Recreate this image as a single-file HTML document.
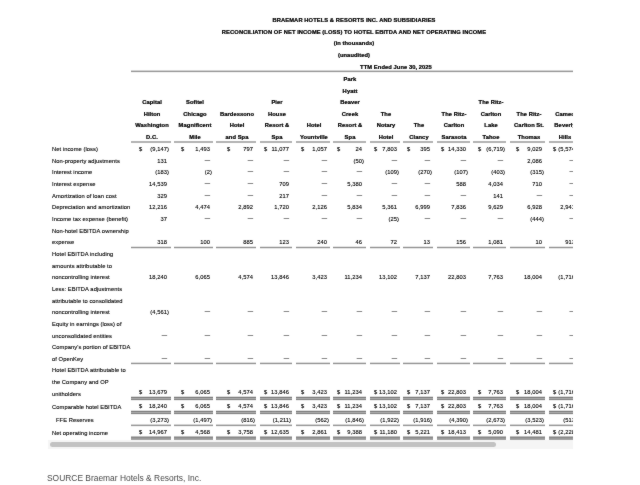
<!DOCTYPE html>
<html><head><meta charset="utf-8"><style>
html,body{margin:0;padding:0;background:#fff;width:640px;height:485px;overflow:hidden}
#wrap{position:absolute;left:0;top:0;width:640px;height:485px;will-change:transform;background:#fff;filter:url(#f)}
.t{position:absolute;font-family:"Liberation Sans",sans-serif;font-size:590px;line-height:1000px;white-space:nowrap;color:#000;-webkit-text-stroke:12.0px #000;transform:scale(0.01);transform-origin:0 0}
.c{width:40000px;text-align:center}
.r{width:20000px;text-align:right}
.l{position:absolute}
.d{color:#222;-webkit-text-stroke:10px #222;display:inline-block;transform:translate(40px,-70px)}
#clip{position:absolute;left:0;top:0;width:572.5px;height:485px;overflow:hidden}
#track{position:absolute;left:48px;top:440px;width:524.5px;height:9px;background:#f5f5f5}
#thumb{position:absolute;left:49.75px;top:442px;width:446.5px;height:5px;border-radius:2.5px;background:#c2c2c2}
#src{position:absolute;left:47.3px;top:470.6px;font-family:"Liberation Sans",sans-serif;font-size:9.3px;line-height:14px;color:#4a4a4a;white-space:nowrap;transform-origin:0 0;transform:scaleX(0.905)}
</style></head><body><svg width="0" height="0" style="position:absolute"><filter id="f" x="0" y="0" width="100%" height="100%" color-interpolation-filters="sRGB"><feConvolveMatrix order="3" kernelMatrix="1 2 1 2 40 2 1 2 1" divisor="52" edgeMode="duplicate"/></filter></svg><div id="wrap">
<div class="t c" style="left:153.90px;top:14.80px;font-weight:bold;-webkit-text-stroke-width:25.0px;">BRAEMAR HOTELS &amp; RESORTS INC. AND SUBSIDIARIES</div><div class="t c" style="left:153.90px;top:26.60px;font-weight:bold;-webkit-text-stroke-width:25.0px;">RECONCILIATION OF NET INCOME (LOSS) TO HOTEL EBITDA AND NET OPERATING INCOME</div><div class="t c" style="left:153.90px;top:38.30px;font-weight:bold;-webkit-text-stroke-width:25.0px;">(in thousands)</div><div class="t c" style="left:153.90px;top:49.90px;font-weight:bold;-webkit-text-stroke-width:25.0px;">(unaudited)</div><div class="t c" style="left:196.00px;top:61.75px;font-weight:bold;-webkit-text-stroke-width:25.0px;">TTM Ended June 30, 2025</div><div class="t" style="left:52.10px;top:144.10px;">Net income (loss)</div><div class="t" style="left:52.10px;top:155.75px;">Non-property adjustments</div><div class="t" style="left:52.10px;top:167.40px;">Interest income</div><div class="t" style="left:52.10px;top:179.05px;">Interest expense</div><div class="t" style="left:52.10px;top:190.70px;">Amortization of loan cost</div><div class="t" style="left:52.10px;top:202.35px;">Depreciation and amortization</div><div class="t" style="left:52.10px;top:214.00px;">Income tax expense (benefit)</div><div class="t" style="left:52.10px;top:225.65px;">Non-hotel EBITDA ownership</div><div class="t" style="left:52.10px;top:237.30px;">expense</div><div class="t" style="left:52.10px;top:248.95px;">Hotel EBITDA including</div><div class="t" style="left:52.10px;top:260.60px;">amounts attributable to</div><div class="t" style="left:52.10px;top:272.25px;">noncontrolling interest</div><div class="t" style="left:52.10px;top:283.90px;">Less: EBITDA adjustments</div><div class="t" style="left:52.10px;top:295.55px;">attributable to consolidated</div><div class="t" style="left:52.10px;top:307.20px;">noncontrolling interest</div><div class="t" style="left:52.10px;top:318.85px;">Equity in earnings (loss) of</div><div class="t" style="left:52.10px;top:330.50px;">unconsolidated entities</div><div class="t" style="left:52.10px;top:342.15px;">Company's portion of EBITDA</div><div class="t" style="left:52.10px;top:353.80px;">of OpenKey</div><div class="t" style="left:52.10px;top:365.45px;">Hotel EBITDA attributable to</div><div class="t" style="left:52.10px;top:377.10px;">the Company and OP</div><div class="t" style="left:52.10px;top:388.75px;">unitholders</div><div class="t" style="left:52.10px;top:402.00px;">Comparable hotel EBITDA</div><div class="t" style="left:55.70px;top:414.90px;">FFE Reserves</div><div class="t" style="left:52.10px;top:427.80px;">Net operating income</div>
<div id="clip">
<div class="l" style="left:131.25px;top:70px;width:468.75px;height:1px;background:rgba(0,0,0,0.169)"></div><div class="l" style="left:131.25px;top:71px;width:468.75px;height:1px;background:rgba(0,0,0,0.400)"></div><div class="l" style="left:131.25px;top:72px;width:468.75px;height:1px;background:rgba(0,0,0,0.049)"></div><div class="t c" style="left:-48.03px;top:97.20px;font-weight:bold;-webkit-text-stroke-width:25.0px;">Capital</div><div class="t c" style="left:-48.03px;top:108.80px;font-weight:bold;-webkit-text-stroke-width:25.0px;">Hilton</div><div class="t c" style="left:-48.03px;top:120.40px;font-weight:bold;-webkit-text-stroke-width:25.0px;">Washington</div><div class="t c" style="left:-48.03px;top:132.00px;font-weight:bold;-webkit-text-stroke-width:25.0px;">D.C.</div><div class="l" style="left:131.25px;top:141px;width:39.25px;height:1px;background:rgba(0,0,0,0.297)"></div><div class="l" style="left:131.25px;top:142px;width:39.25px;height:1px;background:rgba(0,0,0,0.297)"></div><div class="t c" style="left:-5.45px;top:97.20px;font-weight:bold;-webkit-text-stroke-width:25.0px;">Sofitel</div><div class="t c" style="left:-5.45px;top:108.80px;font-weight:bold;-webkit-text-stroke-width:25.0px;">Chicago</div><div class="t c" style="left:-5.45px;top:120.40px;font-weight:bold;-webkit-text-stroke-width:25.0px;">Magnificent</div><div class="t c" style="left:-5.45px;top:132.00px;font-weight:bold;-webkit-text-stroke-width:25.0px;">Mile</div><div class="l" style="left:174.10px;top:141px;width:38.70px;height:1px;background:rgba(0,0,0,0.297)"></div><div class="l" style="left:174.10px;top:142px;width:38.70px;height:1px;background:rgba(0,0,0,0.297)"></div><div class="t c" style="left:37.05px;top:108.80px;font-weight:bold;-webkit-text-stroke-width:25.0px;">Bardessono</div><div class="t c" style="left:37.05px;top:120.40px;font-weight:bold;-webkit-text-stroke-width:25.0px;">Hotel</div><div class="t c" style="left:37.05px;top:132.00px;font-weight:bold;-webkit-text-stroke-width:25.0px;">and Spa</div><div class="l" style="left:216.10px;top:141px;width:39.70px;height:1px;background:rgba(0,0,0,0.297)"></div><div class="l" style="left:216.10px;top:142px;width:39.70px;height:1px;background:rgba(0,0,0,0.297)"></div><div class="t c" style="left:77.20px;top:97.20px;font-weight:bold;-webkit-text-stroke-width:25.0px;">Pier</div><div class="t c" style="left:77.20px;top:108.80px;font-weight:bold;-webkit-text-stroke-width:25.0px;">House</div><div class="t c" style="left:77.20px;top:120.40px;font-weight:bold;-webkit-text-stroke-width:25.0px;">Resort &amp;</div><div class="t c" style="left:77.20px;top:132.00px;font-weight:bold;-webkit-text-stroke-width:25.0px;">Spa</div><div class="l" style="left:259.70px;top:141px;width:32.80px;height:1px;background:rgba(0,0,0,0.297)"></div><div class="l" style="left:259.70px;top:142px;width:32.80px;height:1px;background:rgba(0,0,0,0.297)"></div><div class="t c" style="left:114.10px;top:120.40px;font-weight:bold;-webkit-text-stroke-width:25.0px;">Hotel</div><div class="t c" style="left:114.10px;top:132.00px;font-weight:bold;-webkit-text-stroke-width:25.0px;">Yountville</div><div class="l" style="left:296.20px;top:141px;width:33.60px;height:1px;background:rgba(0,0,0,0.297)"></div><div class="l" style="left:296.20px;top:142px;width:33.60px;height:1px;background:rgba(0,0,0,0.297)"></div><div class="t c" style="left:150.45px;top:74.00px;font-weight:bold;-webkit-text-stroke-width:25.0px;">Park</div><div class="t c" style="left:150.45px;top:85.60px;font-weight:bold;-webkit-text-stroke-width:25.0px;">Hyatt</div><div class="t c" style="left:150.45px;top:97.20px;font-weight:bold;-webkit-text-stroke-width:25.0px;">Beaver</div><div class="t c" style="left:150.45px;top:108.80px;font-weight:bold;-webkit-text-stroke-width:25.0px;">Creek</div><div class="t c" style="left:150.45px;top:120.40px;font-weight:bold;-webkit-text-stroke-width:25.0px;">Resort &amp;</div><div class="t c" style="left:150.45px;top:132.00px;font-weight:bold;-webkit-text-stroke-width:25.0px;">Spa</div><div class="l" style="left:333.10px;top:141px;width:32.50px;height:1px;background:rgba(0,0,0,0.297)"></div><div class="l" style="left:333.10px;top:142px;width:32.50px;height:1px;background:rgba(0,0,0,0.297)"></div><div class="t c" style="left:185.95px;top:108.80px;font-weight:bold;-webkit-text-stroke-width:25.0px;">The</div><div class="t c" style="left:185.95px;top:120.40px;font-weight:bold;-webkit-text-stroke-width:25.0px;">Notary</div><div class="t c" style="left:185.95px;top:132.00px;font-weight:bold;-webkit-text-stroke-width:25.0px;">Hotel</div><div class="l" style="left:370.00px;top:141px;width:29.70px;height:1px;background:rgba(0,0,0,0.297)"></div><div class="l" style="left:370.00px;top:142px;width:29.70px;height:1px;background:rgba(0,0,0,0.297)"></div><div class="t c" style="left:219.15px;top:120.40px;font-weight:bold;-webkit-text-stroke-width:25.0px;">The</div><div class="t c" style="left:219.15px;top:132.00px;font-weight:bold;-webkit-text-stroke-width:25.0px;">Clancy</div><div class="l" style="left:403.10px;top:141px;width:29.90px;height:1px;background:rgba(0,0,0,0.297)"></div><div class="l" style="left:403.10px;top:142px;width:29.90px;height:1px;background:rgba(0,0,0,0.297)"></div><div class="t c" style="left:254.25px;top:108.80px;font-weight:bold;-webkit-text-stroke-width:25.0px;">The Ritz-</div><div class="t c" style="left:254.25px;top:120.40px;font-weight:bold;-webkit-text-stroke-width:25.0px;">Carlton</div><div class="t c" style="left:254.25px;top:132.00px;font-weight:bold;-webkit-text-stroke-width:25.0px;">Sarasota</div><div class="l" style="left:436.70px;top:141px;width:32.90px;height:1px;background:rgba(0,0,0,0.297)"></div><div class="l" style="left:436.70px;top:142px;width:32.90px;height:1px;background:rgba(0,0,0,0.297)"></div><div class="t c" style="left:290.60px;top:97.20px;font-weight:bold;-webkit-text-stroke-width:25.0px;">The Ritz-</div><div class="t c" style="left:290.60px;top:108.80px;font-weight:bold;-webkit-text-stroke-width:25.0px;">Carlton</div><div class="t c" style="left:290.60px;top:120.40px;font-weight:bold;-webkit-text-stroke-width:25.0px;">Lake</div><div class="t c" style="left:290.60px;top:132.00px;font-weight:bold;-webkit-text-stroke-width:25.0px;">Tahoe</div><div class="l" style="left:473.10px;top:141px;width:32.80px;height:1px;background:rgba(0,0,0,0.297)"></div><div class="l" style="left:473.10px;top:142px;width:32.80px;height:1px;background:rgba(0,0,0,0.297)"></div><div class="t c" style="left:328.70px;top:108.80px;font-weight:bold;-webkit-text-stroke-width:25.0px;">The Ritz-</div><div class="t c" style="left:328.70px;top:120.40px;font-weight:bold;-webkit-text-stroke-width:25.0px;">Carlton St.</div><div class="t c" style="left:328.70px;top:132.00px;font-weight:bold;-webkit-text-stroke-width:25.0px;">Thomas</div><div class="l" style="left:509.80px;top:141px;width:35.60px;height:1px;background:rgba(0,0,0,0.297)"></div><div class="l" style="left:509.80px;top:142px;width:35.60px;height:1px;background:rgba(0,0,0,0.297)"></div><div class="t c" style="left:364.55px;top:108.80px;font-weight:bold;-webkit-text-stroke-width:25.0px;">Cameo</div><div class="t c" style="left:364.55px;top:120.40px;font-weight:bold;-webkit-text-stroke-width:25.0px;">Beverly</div><div class="t c" style="left:364.55px;top:132.00px;font-weight:bold;-webkit-text-stroke-width:25.0px;">Hills</div><div class="l" style="left:548.90px;top:141px;width:29.10px;height:1px;background:rgba(0,0,0,0.297)"></div><div class="l" style="left:548.90px;top:142px;width:29.10px;height:1px;background:rgba(0,0,0,0.297)"></div><div class="t r" style="left:-30.70px;top:144.10px;">(9,147)</div><div class="t" style="left:139.25px;top:144.10px;">$</div><div class="t r" style="left:9.60px;top:144.10px;">1,493</div><div class="t" style="left:180.85px;top:144.10px;">$</div><div class="t r" style="left:52.60px;top:144.10px;">797</div><div class="t" style="left:227.35px;top:144.10px;">$</div><div class="t r" style="left:89.30px;top:144.10px;">11,077</div><div class="t" style="left:264.10px;top:144.10px;">$</div><div class="t r" style="left:126.60px;top:144.10px;">1,057</div><div class="t" style="left:300.95px;top:144.10px;">$</div><div class="t r" style="left:162.40px;top:144.10px;">24</div><div class="t" style="left:337.25px;top:144.10px;">$</div><div class="t r" style="left:196.50px;top:144.10px;">7,803</div><div class="t" style="left:374.10px;top:144.10px;">$</div><div class="t r" style="left:229.80px;top:144.10px;">395</div><div class="t" style="left:407.25px;top:144.10px;">$</div><div class="t r" style="left:266.40px;top:144.10px;">14,330</div><div class="t" style="left:440.95px;top:144.10px;">$</div><div class="t r" style="left:304.70px;top:144.10px;">(6,719)</div><div class="t" style="left:478.10px;top:144.10px;">$</div><div class="t r" style="left:342.20px;top:144.10px;">9,029</div><div class="t" style="left:516.35px;top:144.10px;">$</div><div class="t r" style="left:376.80px;top:144.10px;">(5,574)</div><div class="t" style="left:553.45px;top:144.10px;">$</div><div class="t r" style="left:-32.70px;top:155.75px;">131</div><div class="t r" style="left:9.60px;top:155.75px;"><span class="d">&#8212;</span></div><div class="t r" style="left:52.60px;top:155.75px;"><span class="d">&#8212;</span></div><div class="t r" style="left:89.30px;top:155.75px;"><span class="d">&#8212;</span></div><div class="t r" style="left:126.60px;top:155.75px;"><span class="d">&#8212;</span></div><div class="t r" style="left:164.40px;top:155.75px;">(50)</div><div class="t r" style="left:196.50px;top:155.75px;"><span class="d">&#8212;</span></div><div class="t r" style="left:229.80px;top:155.75px;"><span class="d">&#8212;</span></div><div class="t r" style="left:266.40px;top:155.75px;"><span class="d">&#8212;</span></div><div class="t r" style="left:302.70px;top:155.75px;"><span class="d">&#8212;</span></div><div class="t r" style="left:342.20px;top:155.75px;">2,086</div><div class="t r" style="left:374.80px;top:155.75px;"><span class="d">&#8212;</span></div><div class="t r" style="left:-30.70px;top:167.40px;">(183)</div><div class="t r" style="left:11.60px;top:167.40px;">(2)</div><div class="t r" style="left:52.60px;top:167.40px;"><span class="d">&#8212;</span></div><div class="t r" style="left:89.30px;top:167.40px;"><span class="d">&#8212;</span></div><div class="t r" style="left:126.60px;top:167.40px;"><span class="d">&#8212;</span></div><div class="t r" style="left:162.40px;top:167.40px;"><span class="d">&#8212;</span></div><div class="t r" style="left:198.50px;top:167.40px;">(109)</div><div class="t r" style="left:231.80px;top:167.40px;">(270)</div><div class="t r" style="left:268.40px;top:167.40px;">(107)</div><div class="t r" style="left:304.70px;top:167.40px;">(403)</div><div class="t r" style="left:344.20px;top:167.40px;">(315)</div><div class="t r" style="left:374.80px;top:167.40px;"><span class="d">&#8212;</span></div><div class="t r" style="left:-32.70px;top:179.05px;">14,539</div><div class="t r" style="left:9.60px;top:179.05px;"><span class="d">&#8212;</span></div><div class="t r" style="left:52.60px;top:179.05px;"><span class="d">&#8212;</span></div><div class="t r" style="left:89.30px;top:179.05px;">709</div><div class="t r" style="left:126.60px;top:179.05px;"><span class="d">&#8212;</span></div><div class="t r" style="left:162.40px;top:179.05px;">5,380</div><div class="t r" style="left:196.50px;top:179.05px;"><span class="d">&#8212;</span></div><div class="t r" style="left:229.80px;top:179.05px;"><span class="d">&#8212;</span></div><div class="t r" style="left:266.40px;top:179.05px;">588</div><div class="t r" style="left:302.70px;top:179.05px;">4,034</div><div class="t r" style="left:342.20px;top:179.05px;">710</div><div class="t r" style="left:374.80px;top:179.05px;"><span class="d">&#8212;</span></div><div class="t r" style="left:-32.70px;top:190.70px;">329</div><div class="t r" style="left:9.60px;top:190.70px;"><span class="d">&#8212;</span></div><div class="t r" style="left:52.60px;top:190.70px;"><span class="d">&#8212;</span></div><div class="t r" style="left:89.30px;top:190.70px;">217</div><div class="t r" style="left:126.60px;top:190.70px;"><span class="d">&#8212;</span></div><div class="t r" style="left:162.40px;top:190.70px;"><span class="d">&#8212;</span></div><div class="t r" style="left:196.50px;top:190.70px;"><span class="d">&#8212;</span></div><div class="t r" style="left:229.80px;top:190.70px;"><span class="d">&#8212;</span></div><div class="t r" style="left:266.40px;top:190.70px;"><span class="d">&#8212;</span></div><div class="t r" style="left:302.70px;top:190.70px;">141</div><div class="t r" style="left:342.20px;top:190.70px;"><span class="d">&#8212;</span></div><div class="t r" style="left:374.80px;top:190.70px;"><span class="d">&#8212;</span></div><div class="t r" style="left:-32.70px;top:202.35px;">12,216</div><div class="t r" style="left:9.60px;top:202.35px;">4,474</div><div class="t r" style="left:52.60px;top:202.35px;">2,892</div><div class="t r" style="left:89.30px;top:202.35px;">1,720</div><div class="t r" style="left:126.60px;top:202.35px;">2,126</div><div class="t r" style="left:162.40px;top:202.35px;">5,834</div><div class="t r" style="left:196.50px;top:202.35px;">5,361</div><div class="t r" style="left:229.80px;top:202.35px;">6,999</div><div class="t r" style="left:266.40px;top:202.35px;">7,836</div><div class="t r" style="left:302.70px;top:202.35px;">9,629</div><div class="t r" style="left:342.20px;top:202.35px;">6,928</div><div class="t r" style="left:374.80px;top:202.35px;">2,941</div><div class="t r" style="left:-32.70px;top:214.00px;">37</div><div class="t r" style="left:9.60px;top:214.00px;"><span class="d">&#8212;</span></div><div class="t r" style="left:52.60px;top:214.00px;"><span class="d">&#8212;</span></div><div class="t r" style="left:89.30px;top:214.00px;"><span class="d">&#8212;</span></div><div class="t r" style="left:126.60px;top:214.00px;"><span class="d">&#8212;</span></div><div class="t r" style="left:162.40px;top:214.00px;"><span class="d">&#8212;</span></div><div class="t r" style="left:198.50px;top:214.00px;">(25)</div><div class="t r" style="left:229.80px;top:214.00px;"><span class="d">&#8212;</span></div><div class="t r" style="left:266.40px;top:214.00px;"><span class="d">&#8212;</span></div><div class="t r" style="left:302.70px;top:214.00px;"><span class="d">&#8212;</span></div><div class="t r" style="left:344.20px;top:214.00px;">(444)</div><div class="t r" style="left:374.80px;top:214.00px;"><span class="d">&#8212;</span></div><div class="t r" style="left:-32.70px;top:237.30px;">318</div><div class="t r" style="left:9.60px;top:237.30px;">100</div><div class="t r" style="left:52.60px;top:237.30px;">885</div><div class="t r" style="left:89.30px;top:237.30px;">123</div><div class="t r" style="left:126.60px;top:237.30px;">240</div><div class="t r" style="left:162.40px;top:237.30px;">46</div><div class="t r" style="left:196.50px;top:237.30px;">72</div><div class="t r" style="left:229.80px;top:237.30px;">13</div><div class="t r" style="left:266.40px;top:237.30px;">156</div><div class="t r" style="left:302.70px;top:237.30px;">1,081</div><div class="t r" style="left:342.20px;top:237.30px;">10</div><div class="t r" style="left:374.80px;top:237.30px;">913</div><div class="l" style="left:131.25px;top:246px;width:39.25px;height:1px;background:rgba(0,0,0,0.098)"></div><div class="l" style="left:131.25px;top:247px;width:39.25px;height:1px;background:rgba(0,0,0,0.423)"></div><div class="l" style="left:131.25px;top:248px;width:39.25px;height:1px;background:rgba(0,0,0,0.098)"></div><div class="l" style="left:174.10px;top:246px;width:38.70px;height:1px;background:rgba(0,0,0,0.098)"></div><div class="l" style="left:174.10px;top:247px;width:38.70px;height:1px;background:rgba(0,0,0,0.423)"></div><div class="l" style="left:174.10px;top:248px;width:38.70px;height:1px;background:rgba(0,0,0,0.098)"></div><div class="l" style="left:216.10px;top:246px;width:39.70px;height:1px;background:rgba(0,0,0,0.098)"></div><div class="l" style="left:216.10px;top:247px;width:39.70px;height:1px;background:rgba(0,0,0,0.423)"></div><div class="l" style="left:216.10px;top:248px;width:39.70px;height:1px;background:rgba(0,0,0,0.098)"></div><div class="l" style="left:259.70px;top:246px;width:32.80px;height:1px;background:rgba(0,0,0,0.098)"></div><div class="l" style="left:259.70px;top:247px;width:32.80px;height:1px;background:rgba(0,0,0,0.423)"></div><div class="l" style="left:259.70px;top:248px;width:32.80px;height:1px;background:rgba(0,0,0,0.098)"></div><div class="l" style="left:296.20px;top:246px;width:33.60px;height:1px;background:rgba(0,0,0,0.098)"></div><div class="l" style="left:296.20px;top:247px;width:33.60px;height:1px;background:rgba(0,0,0,0.423)"></div><div class="l" style="left:296.20px;top:248px;width:33.60px;height:1px;background:rgba(0,0,0,0.098)"></div><div class="l" style="left:333.10px;top:246px;width:32.50px;height:1px;background:rgba(0,0,0,0.098)"></div><div class="l" style="left:333.10px;top:247px;width:32.50px;height:1px;background:rgba(0,0,0,0.423)"></div><div class="l" style="left:333.10px;top:248px;width:32.50px;height:1px;background:rgba(0,0,0,0.098)"></div><div class="l" style="left:370.00px;top:246px;width:29.70px;height:1px;background:rgba(0,0,0,0.098)"></div><div class="l" style="left:370.00px;top:247px;width:29.70px;height:1px;background:rgba(0,0,0,0.423)"></div><div class="l" style="left:370.00px;top:248px;width:29.70px;height:1px;background:rgba(0,0,0,0.098)"></div><div class="l" style="left:403.10px;top:246px;width:29.90px;height:1px;background:rgba(0,0,0,0.098)"></div><div class="l" style="left:403.10px;top:247px;width:29.90px;height:1px;background:rgba(0,0,0,0.423)"></div><div class="l" style="left:403.10px;top:248px;width:29.90px;height:1px;background:rgba(0,0,0,0.098)"></div><div class="l" style="left:436.70px;top:246px;width:32.90px;height:1px;background:rgba(0,0,0,0.098)"></div><div class="l" style="left:436.70px;top:247px;width:32.90px;height:1px;background:rgba(0,0,0,0.423)"></div><div class="l" style="left:436.70px;top:248px;width:32.90px;height:1px;background:rgba(0,0,0,0.098)"></div><div class="l" style="left:473.10px;top:246px;width:32.80px;height:1px;background:rgba(0,0,0,0.098)"></div><div class="l" style="left:473.10px;top:247px;width:32.80px;height:1px;background:rgba(0,0,0,0.423)"></div><div class="l" style="left:473.10px;top:248px;width:32.80px;height:1px;background:rgba(0,0,0,0.098)"></div><div class="l" style="left:509.80px;top:246px;width:35.60px;height:1px;background:rgba(0,0,0,0.098)"></div><div class="l" style="left:509.80px;top:247px;width:35.60px;height:1px;background:rgba(0,0,0,0.423)"></div><div class="l" style="left:509.80px;top:248px;width:35.60px;height:1px;background:rgba(0,0,0,0.098)"></div><div class="l" style="left:548.90px;top:246px;width:29.10px;height:1px;background:rgba(0,0,0,0.098)"></div><div class="l" style="left:548.90px;top:247px;width:29.10px;height:1px;background:rgba(0,0,0,0.423)"></div><div class="l" style="left:548.90px;top:248px;width:29.10px;height:1px;background:rgba(0,0,0,0.098)"></div><div class="t r" style="left:-32.70px;top:272.25px;">18,240</div><div class="t r" style="left:9.60px;top:272.25px;">6,065</div><div class="t r" style="left:52.60px;top:272.25px;">4,574</div><div class="t r" style="left:89.30px;top:272.25px;">13,846</div><div class="t r" style="left:126.60px;top:272.25px;">3,423</div><div class="t r" style="left:162.40px;top:272.25px;">11,234</div><div class="t r" style="left:196.50px;top:272.25px;">13,102</div><div class="t r" style="left:229.80px;top:272.25px;">7,137</div><div class="t r" style="left:266.40px;top:272.25px;">22,803</div><div class="t r" style="left:302.70px;top:272.25px;">7,763</div><div class="t r" style="left:342.20px;top:272.25px;">18,004</div><div class="t r" style="left:376.80px;top:272.25px;">(1,716)</div><div class="t r" style="left:-30.70px;top:307.20px;">(4,561)</div><div class="t r" style="left:9.60px;top:307.20px;"><span class="d">&#8212;</span></div><div class="t r" style="left:52.60px;top:307.20px;"><span class="d">&#8212;</span></div><div class="t r" style="left:89.30px;top:307.20px;"><span class="d">&#8212;</span></div><div class="t r" style="left:126.60px;top:307.20px;"><span class="d">&#8212;</span></div><div class="t r" style="left:162.40px;top:307.20px;"><span class="d">&#8212;</span></div><div class="t r" style="left:196.50px;top:307.20px;"><span class="d">&#8212;</span></div><div class="t r" style="left:229.80px;top:307.20px;"><span class="d">&#8212;</span></div><div class="t r" style="left:266.40px;top:307.20px;"><span class="d">&#8212;</span></div><div class="t r" style="left:302.70px;top:307.20px;"><span class="d">&#8212;</span></div><div class="t r" style="left:342.20px;top:307.20px;"><span class="d">&#8212;</span></div><div class="t r" style="left:374.80px;top:307.20px;"><span class="d">&#8212;</span></div><div class="t r" style="left:-32.70px;top:330.50px;"><span class="d">&#8212;</span></div><div class="t r" style="left:9.60px;top:330.50px;"><span class="d">&#8212;</span></div><div class="t r" style="left:52.60px;top:330.50px;"><span class="d">&#8212;</span></div><div class="t r" style="left:89.30px;top:330.50px;"><span class="d">&#8212;</span></div><div class="t r" style="left:126.60px;top:330.50px;"><span class="d">&#8212;</span></div><div class="t r" style="left:162.40px;top:330.50px;"><span class="d">&#8212;</span></div><div class="t r" style="left:196.50px;top:330.50px;"><span class="d">&#8212;</span></div><div class="t r" style="left:229.80px;top:330.50px;"><span class="d">&#8212;</span></div><div class="t r" style="left:266.40px;top:330.50px;"><span class="d">&#8212;</span></div><div class="t r" style="left:302.70px;top:330.50px;"><span class="d">&#8212;</span></div><div class="t r" style="left:342.20px;top:330.50px;"><span class="d">&#8212;</span></div><div class="t r" style="left:374.80px;top:330.50px;"><span class="d">&#8212;</span></div><div class="t r" style="left:-32.70px;top:353.80px;"><span class="d">&#8212;</span></div><div class="t r" style="left:9.60px;top:353.80px;"><span class="d">&#8212;</span></div><div class="t r" style="left:52.60px;top:353.80px;"><span class="d">&#8212;</span></div><div class="t r" style="left:89.30px;top:353.80px;"><span class="d">&#8212;</span></div><div class="t r" style="left:126.60px;top:353.80px;"><span class="d">&#8212;</span></div><div class="t r" style="left:162.40px;top:353.80px;"><span class="d">&#8212;</span></div><div class="t r" style="left:196.50px;top:353.80px;"><span class="d">&#8212;</span></div><div class="t r" style="left:229.80px;top:353.80px;"><span class="d">&#8212;</span></div><div class="t r" style="left:266.40px;top:353.80px;"><span class="d">&#8212;</span></div><div class="t r" style="left:302.70px;top:353.80px;"><span class="d">&#8212;</span></div><div class="t r" style="left:342.20px;top:353.80px;"><span class="d">&#8212;</span></div><div class="t r" style="left:374.80px;top:353.80px;"><span class="d">&#8212;</span></div><div class="l" style="left:131.25px;top:362px;width:39.25px;height:1px;background:rgba(0,0,0,0.131)"></div><div class="l" style="left:131.25px;top:363px;width:39.25px;height:1px;background:rgba(0,0,0,0.417)"></div><div class="l" style="left:131.25px;top:364px;width:39.25px;height:1px;background:rgba(0,0,0,0.071)"></div><div class="l" style="left:174.10px;top:362px;width:38.70px;height:1px;background:rgba(0,0,0,0.131)"></div><div class="l" style="left:174.10px;top:363px;width:38.70px;height:1px;background:rgba(0,0,0,0.417)"></div><div class="l" style="left:174.10px;top:364px;width:38.70px;height:1px;background:rgba(0,0,0,0.071)"></div><div class="l" style="left:216.10px;top:362px;width:39.70px;height:1px;background:rgba(0,0,0,0.131)"></div><div class="l" style="left:216.10px;top:363px;width:39.70px;height:1px;background:rgba(0,0,0,0.417)"></div><div class="l" style="left:216.10px;top:364px;width:39.70px;height:1px;background:rgba(0,0,0,0.071)"></div><div class="l" style="left:259.70px;top:362px;width:32.80px;height:1px;background:rgba(0,0,0,0.131)"></div><div class="l" style="left:259.70px;top:363px;width:32.80px;height:1px;background:rgba(0,0,0,0.417)"></div><div class="l" style="left:259.70px;top:364px;width:32.80px;height:1px;background:rgba(0,0,0,0.071)"></div><div class="l" style="left:296.20px;top:362px;width:33.60px;height:1px;background:rgba(0,0,0,0.131)"></div><div class="l" style="left:296.20px;top:363px;width:33.60px;height:1px;background:rgba(0,0,0,0.417)"></div><div class="l" style="left:296.20px;top:364px;width:33.60px;height:1px;background:rgba(0,0,0,0.071)"></div><div class="l" style="left:333.10px;top:362px;width:32.50px;height:1px;background:rgba(0,0,0,0.131)"></div><div class="l" style="left:333.10px;top:363px;width:32.50px;height:1px;background:rgba(0,0,0,0.417)"></div><div class="l" style="left:333.10px;top:364px;width:32.50px;height:1px;background:rgba(0,0,0,0.071)"></div><div class="l" style="left:370.00px;top:362px;width:29.70px;height:1px;background:rgba(0,0,0,0.131)"></div><div class="l" style="left:370.00px;top:363px;width:29.70px;height:1px;background:rgba(0,0,0,0.417)"></div><div class="l" style="left:370.00px;top:364px;width:29.70px;height:1px;background:rgba(0,0,0,0.071)"></div><div class="l" style="left:403.10px;top:362px;width:29.90px;height:1px;background:rgba(0,0,0,0.131)"></div><div class="l" style="left:403.10px;top:363px;width:29.90px;height:1px;background:rgba(0,0,0,0.417)"></div><div class="l" style="left:403.10px;top:364px;width:29.90px;height:1px;background:rgba(0,0,0,0.071)"></div><div class="l" style="left:436.70px;top:362px;width:32.90px;height:1px;background:rgba(0,0,0,0.131)"></div><div class="l" style="left:436.70px;top:363px;width:32.90px;height:1px;background:rgba(0,0,0,0.417)"></div><div class="l" style="left:436.70px;top:364px;width:32.90px;height:1px;background:rgba(0,0,0,0.071)"></div><div class="l" style="left:473.10px;top:362px;width:32.80px;height:1px;background:rgba(0,0,0,0.131)"></div><div class="l" style="left:473.10px;top:363px;width:32.80px;height:1px;background:rgba(0,0,0,0.417)"></div><div class="l" style="left:473.10px;top:364px;width:32.80px;height:1px;background:rgba(0,0,0,0.071)"></div><div class="l" style="left:509.80px;top:362px;width:35.60px;height:1px;background:rgba(0,0,0,0.131)"></div><div class="l" style="left:509.80px;top:363px;width:35.60px;height:1px;background:rgba(0,0,0,0.417)"></div><div class="l" style="left:509.80px;top:364px;width:35.60px;height:1px;background:rgba(0,0,0,0.071)"></div><div class="l" style="left:548.90px;top:362px;width:29.10px;height:1px;background:rgba(0,0,0,0.131)"></div><div class="l" style="left:548.90px;top:363px;width:29.10px;height:1px;background:rgba(0,0,0,0.417)"></div><div class="l" style="left:548.90px;top:364px;width:29.10px;height:1px;background:rgba(0,0,0,0.071)"></div><div class="t r" style="left:-32.70px;top:387.25px;">13,679</div><div class="t" style="left:139.25px;top:387.25px;">$</div><div class="t r" style="left:9.60px;top:387.25px;">6,065</div><div class="t" style="left:180.85px;top:387.25px;">$</div><div class="t r" style="left:52.60px;top:387.25px;">4,574</div><div class="t" style="left:227.35px;top:387.25px;">$</div><div class="t r" style="left:89.30px;top:387.25px;">13,846</div><div class="t" style="left:264.10px;top:387.25px;">$</div><div class="t r" style="left:126.60px;top:387.25px;">3,423</div><div class="t" style="left:300.95px;top:387.25px;">$</div><div class="t r" style="left:162.40px;top:387.25px;">11,234</div><div class="t" style="left:337.25px;top:387.25px;">$</div><div class="t r" style="left:196.50px;top:387.25px;">13,102</div><div class="t" style="left:374.10px;top:387.25px;">$</div><div class="t r" style="left:229.80px;top:387.25px;">7,137</div><div class="t" style="left:407.25px;top:387.25px;">$</div><div class="t r" style="left:266.40px;top:387.25px;">22,803</div><div class="t" style="left:440.95px;top:387.25px;">$</div><div class="t r" style="left:302.70px;top:387.25px;">7,763</div><div class="t" style="left:478.10px;top:387.25px;">$</div><div class="t r" style="left:342.20px;top:387.25px;">18,004</div><div class="t" style="left:516.35px;top:387.25px;">$</div><div class="t r" style="left:376.80px;top:387.25px;">(1,716)</div><div class="t" style="left:553.45px;top:387.25px;">$</div><div class="l" style="left:131.25px;top:396px;width:39.25px;height:1px;background:rgba(0,0,0,0.124)"></div><div class="l" style="left:131.25px;top:397px;width:39.25px;height:1px;background:rgba(0,0,0,0.504)"></div><div class="l" style="left:131.25px;top:398px;width:39.25px;height:1px;background:rgba(0,0,0,0.332)"></div><div class="l" style="left:131.25px;top:399px;width:39.25px;height:1px;background:rgba(0,0,0,0.475)"></div><div class="l" style="left:131.25px;top:400px;width:39.25px;height:1px;background:rgba(0,0,0,0.064)"></div><div class="l" style="left:174.10px;top:396px;width:38.70px;height:1px;background:rgba(0,0,0,0.124)"></div><div class="l" style="left:174.10px;top:397px;width:38.70px;height:1px;background:rgba(0,0,0,0.504)"></div><div class="l" style="left:174.10px;top:398px;width:38.70px;height:1px;background:rgba(0,0,0,0.332)"></div><div class="l" style="left:174.10px;top:399px;width:38.70px;height:1px;background:rgba(0,0,0,0.475)"></div><div class="l" style="left:174.10px;top:400px;width:38.70px;height:1px;background:rgba(0,0,0,0.064)"></div><div class="l" style="left:216.10px;top:396px;width:39.70px;height:1px;background:rgba(0,0,0,0.124)"></div><div class="l" style="left:216.10px;top:397px;width:39.70px;height:1px;background:rgba(0,0,0,0.504)"></div><div class="l" style="left:216.10px;top:398px;width:39.70px;height:1px;background:rgba(0,0,0,0.332)"></div><div class="l" style="left:216.10px;top:399px;width:39.70px;height:1px;background:rgba(0,0,0,0.475)"></div><div class="l" style="left:216.10px;top:400px;width:39.70px;height:1px;background:rgba(0,0,0,0.064)"></div><div class="l" style="left:259.70px;top:396px;width:32.80px;height:1px;background:rgba(0,0,0,0.124)"></div><div class="l" style="left:259.70px;top:397px;width:32.80px;height:1px;background:rgba(0,0,0,0.504)"></div><div class="l" style="left:259.70px;top:398px;width:32.80px;height:1px;background:rgba(0,0,0,0.332)"></div><div class="l" style="left:259.70px;top:399px;width:32.80px;height:1px;background:rgba(0,0,0,0.475)"></div><div class="l" style="left:259.70px;top:400px;width:32.80px;height:1px;background:rgba(0,0,0,0.064)"></div><div class="l" style="left:296.20px;top:396px;width:33.60px;height:1px;background:rgba(0,0,0,0.124)"></div><div class="l" style="left:296.20px;top:397px;width:33.60px;height:1px;background:rgba(0,0,0,0.504)"></div><div class="l" style="left:296.20px;top:398px;width:33.60px;height:1px;background:rgba(0,0,0,0.332)"></div><div class="l" style="left:296.20px;top:399px;width:33.60px;height:1px;background:rgba(0,0,0,0.475)"></div><div class="l" style="left:296.20px;top:400px;width:33.60px;height:1px;background:rgba(0,0,0,0.064)"></div><div class="l" style="left:333.10px;top:396px;width:32.50px;height:1px;background:rgba(0,0,0,0.124)"></div><div class="l" style="left:333.10px;top:397px;width:32.50px;height:1px;background:rgba(0,0,0,0.504)"></div><div class="l" style="left:333.10px;top:398px;width:32.50px;height:1px;background:rgba(0,0,0,0.332)"></div><div class="l" style="left:333.10px;top:399px;width:32.50px;height:1px;background:rgba(0,0,0,0.475)"></div><div class="l" style="left:333.10px;top:400px;width:32.50px;height:1px;background:rgba(0,0,0,0.064)"></div><div class="l" style="left:370.00px;top:396px;width:29.70px;height:1px;background:rgba(0,0,0,0.124)"></div><div class="l" style="left:370.00px;top:397px;width:29.70px;height:1px;background:rgba(0,0,0,0.504)"></div><div class="l" style="left:370.00px;top:398px;width:29.70px;height:1px;background:rgba(0,0,0,0.332)"></div><div class="l" style="left:370.00px;top:399px;width:29.70px;height:1px;background:rgba(0,0,0,0.475)"></div><div class="l" style="left:370.00px;top:400px;width:29.70px;height:1px;background:rgba(0,0,0,0.064)"></div><div class="l" style="left:403.10px;top:396px;width:29.90px;height:1px;background:rgba(0,0,0,0.124)"></div><div class="l" style="left:403.10px;top:397px;width:29.90px;height:1px;background:rgba(0,0,0,0.504)"></div><div class="l" style="left:403.10px;top:398px;width:29.90px;height:1px;background:rgba(0,0,0,0.332)"></div><div class="l" style="left:403.10px;top:399px;width:29.90px;height:1px;background:rgba(0,0,0,0.475)"></div><div class="l" style="left:403.10px;top:400px;width:29.90px;height:1px;background:rgba(0,0,0,0.064)"></div><div class="l" style="left:436.70px;top:396px;width:32.90px;height:1px;background:rgba(0,0,0,0.124)"></div><div class="l" style="left:436.70px;top:397px;width:32.90px;height:1px;background:rgba(0,0,0,0.504)"></div><div class="l" style="left:436.70px;top:398px;width:32.90px;height:1px;background:rgba(0,0,0,0.332)"></div><div class="l" style="left:436.70px;top:399px;width:32.90px;height:1px;background:rgba(0,0,0,0.475)"></div><div class="l" style="left:436.70px;top:400px;width:32.90px;height:1px;background:rgba(0,0,0,0.064)"></div><div class="l" style="left:473.10px;top:396px;width:32.80px;height:1px;background:rgba(0,0,0,0.124)"></div><div class="l" style="left:473.10px;top:397px;width:32.80px;height:1px;background:rgba(0,0,0,0.504)"></div><div class="l" style="left:473.10px;top:398px;width:32.80px;height:1px;background:rgba(0,0,0,0.332)"></div><div class="l" style="left:473.10px;top:399px;width:32.80px;height:1px;background:rgba(0,0,0,0.475)"></div><div class="l" style="left:473.10px;top:400px;width:32.80px;height:1px;background:rgba(0,0,0,0.064)"></div><div class="l" style="left:509.80px;top:396px;width:35.60px;height:1px;background:rgba(0,0,0,0.124)"></div><div class="l" style="left:509.80px;top:397px;width:35.60px;height:1px;background:rgba(0,0,0,0.504)"></div><div class="l" style="left:509.80px;top:398px;width:35.60px;height:1px;background:rgba(0,0,0,0.332)"></div><div class="l" style="left:509.80px;top:399px;width:35.60px;height:1px;background:rgba(0,0,0,0.475)"></div><div class="l" style="left:509.80px;top:400px;width:35.60px;height:1px;background:rgba(0,0,0,0.064)"></div><div class="l" style="left:548.90px;top:396px;width:29.10px;height:1px;background:rgba(0,0,0,0.124)"></div><div class="l" style="left:548.90px;top:397px;width:29.10px;height:1px;background:rgba(0,0,0,0.504)"></div><div class="l" style="left:548.90px;top:398px;width:29.10px;height:1px;background:rgba(0,0,0,0.332)"></div><div class="l" style="left:548.90px;top:399px;width:29.10px;height:1px;background:rgba(0,0,0,0.475)"></div><div class="l" style="left:548.90px;top:400px;width:29.10px;height:1px;background:rgba(0,0,0,0.064)"></div><div class="t r" style="left:-32.70px;top:401.00px;">18,240</div><div class="t" style="left:139.25px;top:401.00px;">$</div><div class="t r" style="left:9.60px;top:401.00px;">6,065</div><div class="t" style="left:180.85px;top:401.00px;">$</div><div class="t r" style="left:52.60px;top:401.00px;">4,574</div><div class="t" style="left:227.35px;top:401.00px;">$</div><div class="t r" style="left:89.30px;top:401.00px;">13,846</div><div class="t" style="left:264.10px;top:401.00px;">$</div><div class="t r" style="left:126.60px;top:401.00px;">3,423</div><div class="t" style="left:300.95px;top:401.00px;">$</div><div class="t r" style="left:162.40px;top:401.00px;">11,234</div><div class="t" style="left:337.25px;top:401.00px;">$</div><div class="t r" style="left:196.50px;top:401.00px;">13,102</div><div class="t" style="left:374.10px;top:401.00px;">$</div><div class="t r" style="left:229.80px;top:401.00px;">7,137</div><div class="t" style="left:407.25px;top:401.00px;">$</div><div class="t r" style="left:266.40px;top:401.00px;">22,803</div><div class="t" style="left:440.95px;top:401.00px;">$</div><div class="t r" style="left:302.70px;top:401.00px;">7,763</div><div class="t" style="left:478.10px;top:401.00px;">$</div><div class="t r" style="left:342.20px;top:401.00px;">18,004</div><div class="t" style="left:516.35px;top:401.00px;">$</div><div class="t r" style="left:376.80px;top:401.00px;">(1,716)</div><div class="t" style="left:553.45px;top:401.00px;">$</div><div class="l" style="left:131.25px;top:410px;width:39.25px;height:1px;background:rgba(0,0,0,0.124)"></div><div class="l" style="left:131.25px;top:411px;width:39.25px;height:1px;background:rgba(0,0,0,0.504)"></div><div class="l" style="left:131.25px;top:412px;width:39.25px;height:1px;background:rgba(0,0,0,0.332)"></div><div class="l" style="left:131.25px;top:413px;width:39.25px;height:1px;background:rgba(0,0,0,0.475)"></div><div class="l" style="left:131.25px;top:414px;width:39.25px;height:1px;background:rgba(0,0,0,0.064)"></div><div class="l" style="left:174.10px;top:410px;width:38.70px;height:1px;background:rgba(0,0,0,0.124)"></div><div class="l" style="left:174.10px;top:411px;width:38.70px;height:1px;background:rgba(0,0,0,0.504)"></div><div class="l" style="left:174.10px;top:412px;width:38.70px;height:1px;background:rgba(0,0,0,0.332)"></div><div class="l" style="left:174.10px;top:413px;width:38.70px;height:1px;background:rgba(0,0,0,0.475)"></div><div class="l" style="left:174.10px;top:414px;width:38.70px;height:1px;background:rgba(0,0,0,0.064)"></div><div class="l" style="left:216.10px;top:410px;width:39.70px;height:1px;background:rgba(0,0,0,0.124)"></div><div class="l" style="left:216.10px;top:411px;width:39.70px;height:1px;background:rgba(0,0,0,0.504)"></div><div class="l" style="left:216.10px;top:412px;width:39.70px;height:1px;background:rgba(0,0,0,0.332)"></div><div class="l" style="left:216.10px;top:413px;width:39.70px;height:1px;background:rgba(0,0,0,0.475)"></div><div class="l" style="left:216.10px;top:414px;width:39.70px;height:1px;background:rgba(0,0,0,0.064)"></div><div class="l" style="left:259.70px;top:410px;width:32.80px;height:1px;background:rgba(0,0,0,0.124)"></div><div class="l" style="left:259.70px;top:411px;width:32.80px;height:1px;background:rgba(0,0,0,0.504)"></div><div class="l" style="left:259.70px;top:412px;width:32.80px;height:1px;background:rgba(0,0,0,0.332)"></div><div class="l" style="left:259.70px;top:413px;width:32.80px;height:1px;background:rgba(0,0,0,0.475)"></div><div class="l" style="left:259.70px;top:414px;width:32.80px;height:1px;background:rgba(0,0,0,0.064)"></div><div class="l" style="left:296.20px;top:410px;width:33.60px;height:1px;background:rgba(0,0,0,0.124)"></div><div class="l" style="left:296.20px;top:411px;width:33.60px;height:1px;background:rgba(0,0,0,0.504)"></div><div class="l" style="left:296.20px;top:412px;width:33.60px;height:1px;background:rgba(0,0,0,0.332)"></div><div class="l" style="left:296.20px;top:413px;width:33.60px;height:1px;background:rgba(0,0,0,0.475)"></div><div class="l" style="left:296.20px;top:414px;width:33.60px;height:1px;background:rgba(0,0,0,0.064)"></div><div class="l" style="left:333.10px;top:410px;width:32.50px;height:1px;background:rgba(0,0,0,0.124)"></div><div class="l" style="left:333.10px;top:411px;width:32.50px;height:1px;background:rgba(0,0,0,0.504)"></div><div class="l" style="left:333.10px;top:412px;width:32.50px;height:1px;background:rgba(0,0,0,0.332)"></div><div class="l" style="left:333.10px;top:413px;width:32.50px;height:1px;background:rgba(0,0,0,0.475)"></div><div class="l" style="left:333.10px;top:414px;width:32.50px;height:1px;background:rgba(0,0,0,0.064)"></div><div class="l" style="left:370.00px;top:410px;width:29.70px;height:1px;background:rgba(0,0,0,0.124)"></div><div class="l" style="left:370.00px;top:411px;width:29.70px;height:1px;background:rgba(0,0,0,0.504)"></div><div class="l" style="left:370.00px;top:412px;width:29.70px;height:1px;background:rgba(0,0,0,0.332)"></div><div class="l" style="left:370.00px;top:413px;width:29.70px;height:1px;background:rgba(0,0,0,0.475)"></div><div class="l" style="left:370.00px;top:414px;width:29.70px;height:1px;background:rgba(0,0,0,0.064)"></div><div class="l" style="left:403.10px;top:410px;width:29.90px;height:1px;background:rgba(0,0,0,0.124)"></div><div class="l" style="left:403.10px;top:411px;width:29.90px;height:1px;background:rgba(0,0,0,0.504)"></div><div class="l" style="left:403.10px;top:412px;width:29.90px;height:1px;background:rgba(0,0,0,0.332)"></div><div class="l" style="left:403.10px;top:413px;width:29.90px;height:1px;background:rgba(0,0,0,0.475)"></div><div class="l" style="left:403.10px;top:414px;width:29.90px;height:1px;background:rgba(0,0,0,0.064)"></div><div class="l" style="left:436.70px;top:410px;width:32.90px;height:1px;background:rgba(0,0,0,0.124)"></div><div class="l" style="left:436.70px;top:411px;width:32.90px;height:1px;background:rgba(0,0,0,0.504)"></div><div class="l" style="left:436.70px;top:412px;width:32.90px;height:1px;background:rgba(0,0,0,0.332)"></div><div class="l" style="left:436.70px;top:413px;width:32.90px;height:1px;background:rgba(0,0,0,0.475)"></div><div class="l" style="left:436.70px;top:414px;width:32.90px;height:1px;background:rgba(0,0,0,0.064)"></div><div class="l" style="left:473.10px;top:410px;width:32.80px;height:1px;background:rgba(0,0,0,0.124)"></div><div class="l" style="left:473.10px;top:411px;width:32.80px;height:1px;background:rgba(0,0,0,0.504)"></div><div class="l" style="left:473.10px;top:412px;width:32.80px;height:1px;background:rgba(0,0,0,0.332)"></div><div class="l" style="left:473.10px;top:413px;width:32.80px;height:1px;background:rgba(0,0,0,0.475)"></div><div class="l" style="left:473.10px;top:414px;width:32.80px;height:1px;background:rgba(0,0,0,0.064)"></div><div class="l" style="left:509.80px;top:410px;width:35.60px;height:1px;background:rgba(0,0,0,0.124)"></div><div class="l" style="left:509.80px;top:411px;width:35.60px;height:1px;background:rgba(0,0,0,0.504)"></div><div class="l" style="left:509.80px;top:412px;width:35.60px;height:1px;background:rgba(0,0,0,0.332)"></div><div class="l" style="left:509.80px;top:413px;width:35.60px;height:1px;background:rgba(0,0,0,0.475)"></div><div class="l" style="left:509.80px;top:414px;width:35.60px;height:1px;background:rgba(0,0,0,0.064)"></div><div class="l" style="left:548.90px;top:410px;width:29.10px;height:1px;background:rgba(0,0,0,0.124)"></div><div class="l" style="left:548.90px;top:411px;width:29.10px;height:1px;background:rgba(0,0,0,0.504)"></div><div class="l" style="left:548.90px;top:412px;width:29.10px;height:1px;background:rgba(0,0,0,0.332)"></div><div class="l" style="left:548.90px;top:413px;width:29.10px;height:1px;background:rgba(0,0,0,0.475)"></div><div class="l" style="left:548.90px;top:414px;width:29.10px;height:1px;background:rgba(0,0,0,0.064)"></div><div class="t r" style="left:-30.70px;top:414.90px;">(3,273)</div><div class="t r" style="left:11.60px;top:414.90px;">(1,497)</div><div class="t r" style="left:54.60px;top:414.90px;">(816)</div><div class="t r" style="left:91.30px;top:414.90px;">(1,211)</div><div class="t r" style="left:128.60px;top:414.90px;">(562)</div><div class="t r" style="left:164.40px;top:414.90px;">(1,846)</div><div class="t r" style="left:198.50px;top:414.90px;">(1,922)</div><div class="t r" style="left:231.80px;top:414.90px;">(1,916)</div><div class="t r" style="left:268.40px;top:414.90px;">(4,390)</div><div class="t r" style="left:304.70px;top:414.90px;">(2,673)</div><div class="t r" style="left:344.20px;top:414.90px;">(3,523)</div><div class="t r" style="left:376.80px;top:414.90px;">(513)</div><div class="l" style="left:131.25px;top:424px;width:39.25px;height:1px;background:rgba(0,0,0,0.169)"></div><div class="l" style="left:131.25px;top:425px;width:39.25px;height:1px;background:rgba(0,0,0,0.400)"></div><div class="l" style="left:131.25px;top:426px;width:39.25px;height:1px;background:rgba(0,0,0,0.049)"></div><div class="l" style="left:174.10px;top:424px;width:38.70px;height:1px;background:rgba(0,0,0,0.169)"></div><div class="l" style="left:174.10px;top:425px;width:38.70px;height:1px;background:rgba(0,0,0,0.400)"></div><div class="l" style="left:174.10px;top:426px;width:38.70px;height:1px;background:rgba(0,0,0,0.049)"></div><div class="l" style="left:216.10px;top:424px;width:39.70px;height:1px;background:rgba(0,0,0,0.169)"></div><div class="l" style="left:216.10px;top:425px;width:39.70px;height:1px;background:rgba(0,0,0,0.400)"></div><div class="l" style="left:216.10px;top:426px;width:39.70px;height:1px;background:rgba(0,0,0,0.049)"></div><div class="l" style="left:259.70px;top:424px;width:32.80px;height:1px;background:rgba(0,0,0,0.169)"></div><div class="l" style="left:259.70px;top:425px;width:32.80px;height:1px;background:rgba(0,0,0,0.400)"></div><div class="l" style="left:259.70px;top:426px;width:32.80px;height:1px;background:rgba(0,0,0,0.049)"></div><div class="l" style="left:296.20px;top:424px;width:33.60px;height:1px;background:rgba(0,0,0,0.169)"></div><div class="l" style="left:296.20px;top:425px;width:33.60px;height:1px;background:rgba(0,0,0,0.400)"></div><div class="l" style="left:296.20px;top:426px;width:33.60px;height:1px;background:rgba(0,0,0,0.049)"></div><div class="l" style="left:333.10px;top:424px;width:32.50px;height:1px;background:rgba(0,0,0,0.169)"></div><div class="l" style="left:333.10px;top:425px;width:32.50px;height:1px;background:rgba(0,0,0,0.400)"></div><div class="l" style="left:333.10px;top:426px;width:32.50px;height:1px;background:rgba(0,0,0,0.049)"></div><div class="l" style="left:370.00px;top:424px;width:29.70px;height:1px;background:rgba(0,0,0,0.169)"></div><div class="l" style="left:370.00px;top:425px;width:29.70px;height:1px;background:rgba(0,0,0,0.400)"></div><div class="l" style="left:370.00px;top:426px;width:29.70px;height:1px;background:rgba(0,0,0,0.049)"></div><div class="l" style="left:403.10px;top:424px;width:29.90px;height:1px;background:rgba(0,0,0,0.169)"></div><div class="l" style="left:403.10px;top:425px;width:29.90px;height:1px;background:rgba(0,0,0,0.400)"></div><div class="l" style="left:403.10px;top:426px;width:29.90px;height:1px;background:rgba(0,0,0,0.049)"></div><div class="l" style="left:436.70px;top:424px;width:32.90px;height:1px;background:rgba(0,0,0,0.169)"></div><div class="l" style="left:436.70px;top:425px;width:32.90px;height:1px;background:rgba(0,0,0,0.400)"></div><div class="l" style="left:436.70px;top:426px;width:32.90px;height:1px;background:rgba(0,0,0,0.049)"></div><div class="l" style="left:473.10px;top:424px;width:32.80px;height:1px;background:rgba(0,0,0,0.169)"></div><div class="l" style="left:473.10px;top:425px;width:32.80px;height:1px;background:rgba(0,0,0,0.400)"></div><div class="l" style="left:473.10px;top:426px;width:32.80px;height:1px;background:rgba(0,0,0,0.049)"></div><div class="l" style="left:509.80px;top:424px;width:35.60px;height:1px;background:rgba(0,0,0,0.169)"></div><div class="l" style="left:509.80px;top:425px;width:35.60px;height:1px;background:rgba(0,0,0,0.400)"></div><div class="l" style="left:509.80px;top:426px;width:35.60px;height:1px;background:rgba(0,0,0,0.049)"></div><div class="l" style="left:548.90px;top:424px;width:29.10px;height:1px;background:rgba(0,0,0,0.169)"></div><div class="l" style="left:548.90px;top:425px;width:29.10px;height:1px;background:rgba(0,0,0,0.400)"></div><div class="l" style="left:548.90px;top:426px;width:29.10px;height:1px;background:rgba(0,0,0,0.049)"></div><div class="t r" style="left:-32.70px;top:427.00px;">14,967</div><div class="t" style="left:139.25px;top:427.00px;">$</div><div class="t r" style="left:9.60px;top:427.00px;">4,568</div><div class="t" style="left:180.85px;top:427.00px;">$</div><div class="t r" style="left:52.60px;top:427.00px;">3,758</div><div class="t" style="left:227.35px;top:427.00px;">$</div><div class="t r" style="left:89.30px;top:427.00px;">12,635</div><div class="t" style="left:264.10px;top:427.00px;">$</div><div class="t r" style="left:126.60px;top:427.00px;">2,861</div><div class="t" style="left:300.95px;top:427.00px;">$</div><div class="t r" style="left:162.40px;top:427.00px;">9,388</div><div class="t" style="left:337.25px;top:427.00px;">$</div><div class="t r" style="left:196.50px;top:427.00px;">11,180</div><div class="t" style="left:374.10px;top:427.00px;">$</div><div class="t r" style="left:229.80px;top:427.00px;">5,221</div><div class="t" style="left:407.25px;top:427.00px;">$</div><div class="t r" style="left:266.40px;top:427.00px;">18,413</div><div class="t" style="left:440.95px;top:427.00px;">$</div><div class="t r" style="left:302.70px;top:427.00px;">5,090</div><div class="t" style="left:478.10px;top:427.00px;">$</div><div class="t r" style="left:342.20px;top:427.00px;">14,481</div><div class="t" style="left:516.35px;top:427.00px;">$</div><div class="t r" style="left:376.80px;top:427.00px;">(2,228)</div><div class="t" style="left:553.45px;top:427.00px;">$</div><div class="l" style="left:131.25px;top:436px;width:39.25px;height:1px;background:rgba(0,0,0,0.256)"></div><div class="l" style="left:131.25px;top:437px;width:39.25px;height:1px;background:rgba(0,0,0,0.462)"></div><div class="l" style="left:131.25px;top:438px;width:39.25px;height:1px;background:rgba(0,0,0,0.401)"></div><div class="l" style="left:131.25px;top:439px;width:39.25px;height:1px;background:rgba(0,0,0,0.357)"></div><div class="l" style="left:174.10px;top:436px;width:38.70px;height:1px;background:rgba(0,0,0,0.256)"></div><div class="l" style="left:174.10px;top:437px;width:38.70px;height:1px;background:rgba(0,0,0,0.462)"></div><div class="l" style="left:174.10px;top:438px;width:38.70px;height:1px;background:rgba(0,0,0,0.401)"></div><div class="l" style="left:174.10px;top:439px;width:38.70px;height:1px;background:rgba(0,0,0,0.357)"></div><div class="l" style="left:216.10px;top:436px;width:39.70px;height:1px;background:rgba(0,0,0,0.256)"></div><div class="l" style="left:216.10px;top:437px;width:39.70px;height:1px;background:rgba(0,0,0,0.462)"></div><div class="l" style="left:216.10px;top:438px;width:39.70px;height:1px;background:rgba(0,0,0,0.401)"></div><div class="l" style="left:216.10px;top:439px;width:39.70px;height:1px;background:rgba(0,0,0,0.357)"></div><div class="l" style="left:259.70px;top:436px;width:32.80px;height:1px;background:rgba(0,0,0,0.256)"></div><div class="l" style="left:259.70px;top:437px;width:32.80px;height:1px;background:rgba(0,0,0,0.462)"></div><div class="l" style="left:259.70px;top:438px;width:32.80px;height:1px;background:rgba(0,0,0,0.401)"></div><div class="l" style="left:259.70px;top:439px;width:32.80px;height:1px;background:rgba(0,0,0,0.357)"></div><div class="l" style="left:296.20px;top:436px;width:33.60px;height:1px;background:rgba(0,0,0,0.256)"></div><div class="l" style="left:296.20px;top:437px;width:33.60px;height:1px;background:rgba(0,0,0,0.462)"></div><div class="l" style="left:296.20px;top:438px;width:33.60px;height:1px;background:rgba(0,0,0,0.401)"></div><div class="l" style="left:296.20px;top:439px;width:33.60px;height:1px;background:rgba(0,0,0,0.357)"></div><div class="l" style="left:333.10px;top:436px;width:32.50px;height:1px;background:rgba(0,0,0,0.256)"></div><div class="l" style="left:333.10px;top:437px;width:32.50px;height:1px;background:rgba(0,0,0,0.462)"></div><div class="l" style="left:333.10px;top:438px;width:32.50px;height:1px;background:rgba(0,0,0,0.401)"></div><div class="l" style="left:333.10px;top:439px;width:32.50px;height:1px;background:rgba(0,0,0,0.357)"></div><div class="l" style="left:370.00px;top:436px;width:29.70px;height:1px;background:rgba(0,0,0,0.256)"></div><div class="l" style="left:370.00px;top:437px;width:29.70px;height:1px;background:rgba(0,0,0,0.462)"></div><div class="l" style="left:370.00px;top:438px;width:29.70px;height:1px;background:rgba(0,0,0,0.401)"></div><div class="l" style="left:370.00px;top:439px;width:29.70px;height:1px;background:rgba(0,0,0,0.357)"></div><div class="l" style="left:403.10px;top:436px;width:29.90px;height:1px;background:rgba(0,0,0,0.256)"></div><div class="l" style="left:403.10px;top:437px;width:29.90px;height:1px;background:rgba(0,0,0,0.462)"></div><div class="l" style="left:403.10px;top:438px;width:29.90px;height:1px;background:rgba(0,0,0,0.401)"></div><div class="l" style="left:403.10px;top:439px;width:29.90px;height:1px;background:rgba(0,0,0,0.357)"></div><div class="l" style="left:436.70px;top:436px;width:32.90px;height:1px;background:rgba(0,0,0,0.256)"></div><div class="l" style="left:436.70px;top:437px;width:32.90px;height:1px;background:rgba(0,0,0,0.462)"></div><div class="l" style="left:436.70px;top:438px;width:32.90px;height:1px;background:rgba(0,0,0,0.401)"></div><div class="l" style="left:436.70px;top:439px;width:32.90px;height:1px;background:rgba(0,0,0,0.357)"></div><div class="l" style="left:473.10px;top:436px;width:32.80px;height:1px;background:rgba(0,0,0,0.256)"></div><div class="l" style="left:473.10px;top:437px;width:32.80px;height:1px;background:rgba(0,0,0,0.462)"></div><div class="l" style="left:473.10px;top:438px;width:32.80px;height:1px;background:rgba(0,0,0,0.401)"></div><div class="l" style="left:473.10px;top:439px;width:32.80px;height:1px;background:rgba(0,0,0,0.357)"></div><div class="l" style="left:509.80px;top:436px;width:35.60px;height:1px;background:rgba(0,0,0,0.256)"></div><div class="l" style="left:509.80px;top:437px;width:35.60px;height:1px;background:rgba(0,0,0,0.462)"></div><div class="l" style="left:509.80px;top:438px;width:35.60px;height:1px;background:rgba(0,0,0,0.401)"></div><div class="l" style="left:509.80px;top:439px;width:35.60px;height:1px;background:rgba(0,0,0,0.357)"></div><div class="l" style="left:548.90px;top:436px;width:29.10px;height:1px;background:rgba(0,0,0,0.256)"></div><div class="l" style="left:548.90px;top:437px;width:29.10px;height:1px;background:rgba(0,0,0,0.462)"></div><div class="l" style="left:548.90px;top:438px;width:29.10px;height:1px;background:rgba(0,0,0,0.401)"></div><div class="l" style="left:548.90px;top:439px;width:29.10px;height:1px;background:rgba(0,0,0,0.357)"></div>
</div>
<div id="track"></div><div id="thumb"></div>
<div id="src">SOURCE Braemar Hotels &amp; Resorts, Inc.</div>
</div></body></html>
